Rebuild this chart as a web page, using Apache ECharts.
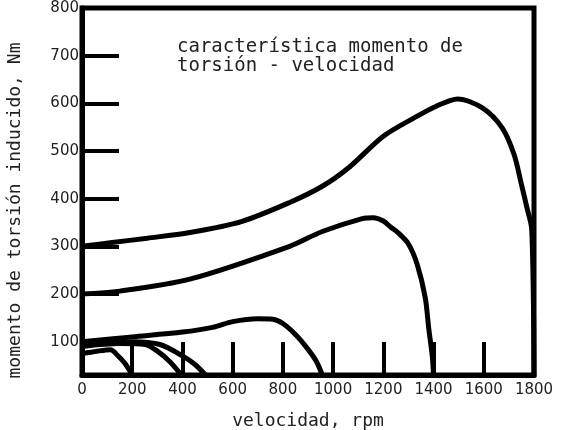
<!DOCTYPE html>
<html>
<head>
<meta charset="utf-8">
<script src="https://cdn.jsdelivr.net/npm/echarts@6/dist/echarts.min.js"></script>
<style>
  html, body { margin: 0; padding: 0; background: #fff; }
  #chart { width: 583px; height: 430px; }
</style>
</head>
<body>
<div id="chart"></div>
<script>
// Axis ticks and labels
const speedLabels = [0, 200, 400, 600, 800, 1000, 1200, 1400, 1600, 1800];
const speedTicks = [200, 400, 600, 800, 1000, 1200, 1400, 1600];
const torqueLabels = [100, 200, 300, 400, 500, 600, 700, 800];
const torqueTicks = [100, 200, 300, 400, 500, 600, 700];

// Torque-speed curves: [speed rpm, torque Nm]
const curve300 = [[0, 300], [120, 308], [260, 317], [429, 329], [635, 352], [827, 392], [957, 426],
  [1064, 466], [1200, 531], [1321, 569], [1411, 594], [1496, 609], [1596, 590], [1674, 548],
  [1721, 492], [1749, 432], [1772, 381], [1791, 335], [1800, 30]];
const curve200 = [[0, 200], [150, 206], [429, 231], [827, 300], [957, 331], [1116, 358], [1160, 360],
  [1200, 353], [1230, 340], [1260, 328], [1300, 305], [1335, 262], [1367, 192], [1381, 127],
  [1395, 69], [1400, 30]];
const curve100 = [[0, 100], [200, 110], [400, 120], [520, 130], [600, 142], [700, 148], [760, 147],
  [800, 138], [850, 115], [894, 88], [933, 59], [957, 30]];
const curve95 = [[0, 95], [200, 100], [311, 94], [400, 70], [450, 52], [492, 30]];
const curve90 = [[0, 90], [150, 96], [251, 94], [300, 80], [350, 58], [396, 30]];
const curve75 = [[0, 75], [60, 80], [114, 83], [140, 72], [170, 55], [200, 30]];

const curves = [curve300, curve200, curve100, curve95, curve90, curve75];

const chart = echarts.init(document.getElementById('chart'), null, { renderer: 'canvas' });

const mono = 'DejaVu Sans Mono';
const plain = function (v) { return String(v); };

chart.setOption({
  animation: false,
  backgroundColor: '#fff',
  title: {
    text: 'característica momento de\ntorsión - velocidad',
    left: 172,
    top: 33,
    textStyle: { fontFamily: mono, fontSize: 19, fontWeight: 'normal', color: '#222', lineHeight: 19 }
  },
  grid: {
    left: 82, right: 49, top: 8, bottom: 55,
    containLabel: false,
    outerBoundsMode: 'none',
    show: true, borderColor: '#000', borderWidth: 5, backgroundColor: 'transparent'
  },
  xAxis: {
    type: 'value', min: 0, max: 1800,
    name: 'velocidad, rpm', nameLocation: 'middle', nameGap: 37,
    nameTextStyle: { fontFamily: mono, fontSize: 18, color: '#222' },
    axisLine: { show: true, lineStyle: { color: '#000', width: 5 } },
    splitLine: { show: false },
    axisTick: { show: true, inside: true, length: 33, customValues: speedTicks,
      lineStyle: { color: '#000', width: 4 } },
    axisLabel: { customValues: speedLabels, margin: 8, formatter: plain,
      fontFamily: 'DejaVu Sans', fontSize: 15, color: '#222' }
  },
  yAxis: {
    type: 'value', min: 30, max: 800,
    name: 'momento de torsión inducido, Nm', nameLocation: 'middle', nameGap: 58, nameRotate: 90,
    nameTextStyle: { fontFamily: mono, fontSize: 18, color: '#222', padding: [0, 38, 0, 0] },
    axisLine: { show: true, lineStyle: { color: '#000', width: 5 } },
    splitLine: { show: false },
    axisTick: { show: true, inside: true, length: 37, customValues: torqueTicks,
      lineStyle: { color: '#000', width: 4 } },
    axisLabel: { customValues: torqueLabels, margin: 3, formatter: plain,
      fontFamily: 'DejaVu Sans', fontSize: 15, color: '#222' }
  },
  series: curves.map(function (d) {
    return {
      type: 'line', data: d, showSymbol: false, symbol: 'none',
      smooth: 0.3, smoothMonotone: 'none', clip: true,
      lineStyle: { color: '#000', width: 5 }
    };
  })
});
</script>
</body>
</html>
